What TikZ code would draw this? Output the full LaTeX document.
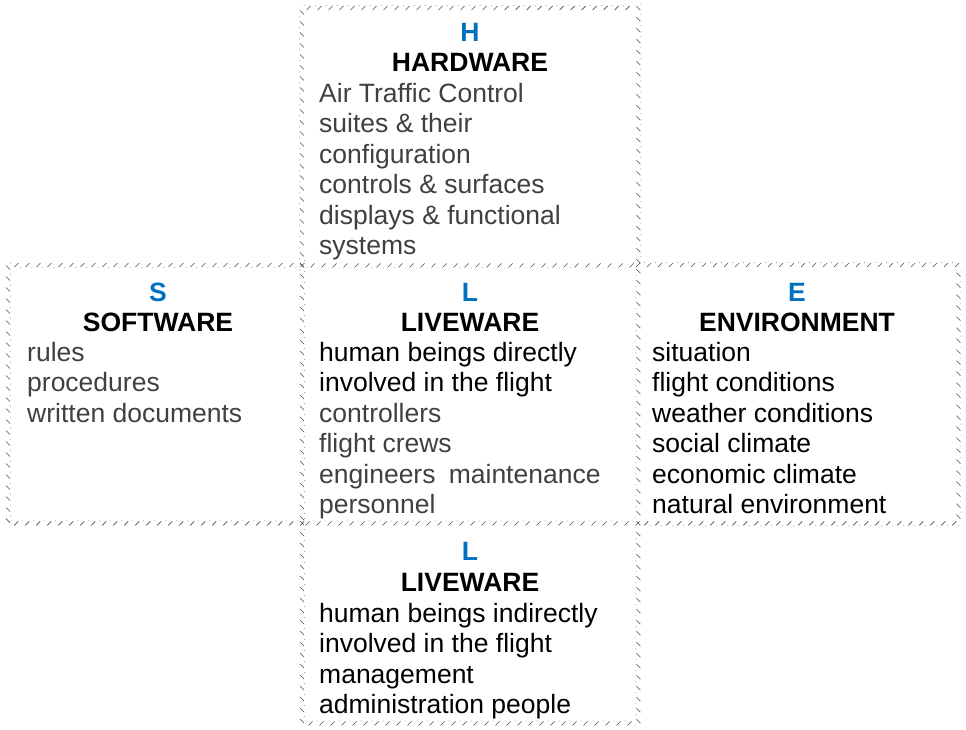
\documentclass[tikz,border=0pt]{standalone}
\usepackage{fontspec}
\setmainfont{Liberation Sans}
\usetikzlibrary{decorations.markings}
\definecolor{lettblue}{HTML}{0070C0}
\definecolor{bodygray}{HTML}{404040}
\tikzset{
  hatch/.style={postaction={decorate},
    decoration={markings,
      mark=between positions 0 and 1 step 11pt with {
        \draw[black!70, line width=0.55pt] (-2pt,-2pt) -- (2pt,2pt);
        \fill[black!45] (-4.5pt,2.5pt) circle (0.5pt);}}},
  panel/.style={rectangle, inner sep=0pt, anchor=north west},
  letter/.style={font=\bfseries, text=lettblue, anchor=base, inner sep=0pt},
  title/.style={font=\bfseries, text=black, anchor=base, inner sep=0pt},
  body/.style={anchor=base west, inner sep=0pt, text=bodygray},
  dark/.style={anchor=base west, inner sep=0pt, text=black},
}
\begin{document}
\begin{tikzpicture}[x=1pt, y=1pt]
\fontsize{26.5}{30.5}\selectfont
\useasboundingbox (0,0) rectangle (966,-729);

% panels
\node[panel, minimum width=336, minimum height=257] (hw) at (302,-8) {};
\node[panel, minimum width=294, minimum height=258] (sw) at (8,-265) {};
\node[panel, minimum width=336, minimum height=258] (lv) at (302,-265) {};
\node[panel, minimum width=320, minimum height=258] (en) at (638,-265) {};
\node[panel, minimum width=336, minimum height=200] (lo) at (302,-523) {};

% hatched borders (ticks only, no solid line)
\path[hatch] (hw.south west) -- (hw.north west) -- (hw.north east) -- (hw.south east) -- cycle;
\path[hatch] (sw.north east) -- (sw.north west) -- (sw.south west) -- (sw.south east);
\path[hatch] (lv.north west) -- (lv.south west) -- (lv.south east) -- (lv.north east);
\path[hatch] (en.north west) -- (en.north east) -- (en.south east) -- (en.south west);
\path[hatch] (lo.north west) -- (lo.south west) -- (lo.south east) -- (lo.north east);

% HARDWARE
\node[letter] (hwl) at (470,-41.7) {H};
\node[title] (hwt) at (470,-71.7) {HARDWARE};
\node[body] (hw1) at (319,-102) {Air Traffic Control};
\node[body] (hw2) at (319,-132.5) {suites \& their};
\node[body] (hw3) at (319,-163) {configuration};
\node[body] (hw4) at (319,-193.5) {controls \& surfaces};
\node[body] (hw5) at (319,-224) {displays \& functional};
\node[body] (hw6) at (319,-254.5) {systems};

% SOFTWARE
\node[letter] (swl) at (158,-301.7) {S};
\node[title] (swt) at (158,-331) {SOFTWARE};
\node[body] (sw1) at (27,-361) {rules};
\node[body] (sw2) at (27,-391.5) {procedures};
\node[body] (sw3) at (27,-422) {written documents};

% LIVEWARE (direct)
\node[letter] (lvl) at (470,-301.7) {L};
\node[title] (lvt) at (470,-331) {LIVEWARE};
\node[dark] (lv1) at (319,-361) {human beings directly};
\node[dark] (lv2) at (319,-391.5) {involved in the flight};
\node[body] (lv3) at (319,-422) {controllers};
\node[body] (lv4) at (319,-452.5) {flight crews};
\node[body] (lv5) at (319,-483) {engineers\hspace{0.5em}maintenance};
\node[body] (lv6) at (319,-513.5) {personnel};

% ENVIRONMENT
\node[letter] (enl) at (797,-301.7) {E};
\node[title] (ent) at (797,-331) {ENVIRONMENT};
\node[dark] (en1) at (652,-361) {situation};
\node[dark] (en2) at (652,-391.5) {flight conditions};
\node[dark] (en3) at (652,-422) {weather conditions};
\node[dark] (en4) at (652,-452.5) {social climate};
\node[dark] (en5) at (652,-483) {economic climate};
\node[dark] (en6) at (652,-513.5) {natural environment};

% LIVEWARE (indirect)
\node[letter] (lol) at (470,-560) {L};
\node[title] (lot) at (470,-591) {LIVEWARE};
\node[dark] (lo1) at (319,-622) {human beings indirectly};
\node[dark] (lo2) at (319,-652) {involved in the flight};
\node[dark] (lo3) at (319,-683) {management};
\node[dark] (lo4) at (319,-713) {administration people};
\end{tikzpicture}
\end{document}
